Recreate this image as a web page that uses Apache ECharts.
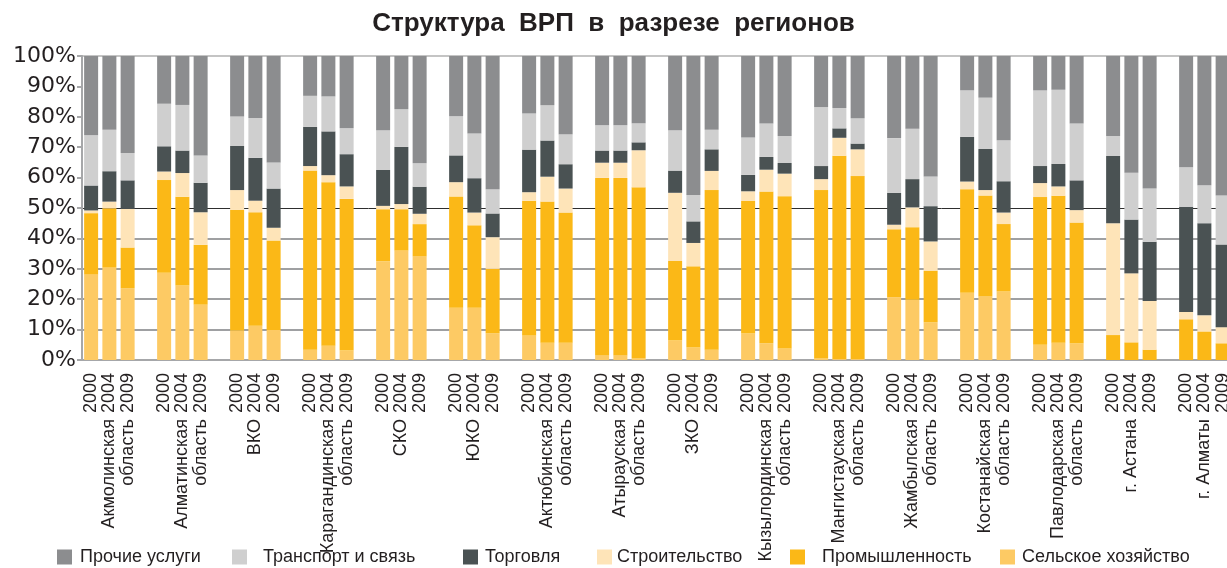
<!DOCTYPE html>
<html>
<head>
<meta charset="utf-8">
<title>Структура ВРП в разрезе регионов</title>
<script src="https://cdn.jsdelivr.net/npm/echarts@6/dist/echarts.min.js"></script>
<style>
  html, body { margin: 0; padding: 0; background: #ffffff; }
  #chart { width: 1227px; height: 568px; }
</style>
</head>
<body>
<div id="chart"></div>
<script>
// Regions (line breaks split the two label lines) and the years shown per region
const regions = [
  'Акмолинская\nобласть', 'Алматинская\nобласть', 'ВКО', 'Карагандинская\nобласть',
  'СКО', 'ЮКО', 'Актюбинская\nобласть', 'Атырауская\nобласть', 'ЗКО',
  'Кызылординская\nобласть', 'Мангистауская\nобласть', 'Жамбылская\nобласть',
  'Костанайская\nобласть', 'Павлодарская\nобласть', 'г. Астана', 'г. Алматы'
];
const years = ['2000', '2004', '2009'];
const yTicks = ['0%', '10%', '20%', '30%', '40%', '50%', '60%', '70%', '80%', '90%', '100%'];

// Shares of GRP, % — three values (2000, 2004, 2009) per region
const agriculture = [
  28.1, 30.4, 23.6,  28.7, 24.5, 18.2,  9.7, 11.3, 9.9,  3.4, 4.7, 3.1,
  32.5, 36.0, 34.1,  17.2, 17.2, 8.8,  8.1, 5.7, 5.7,  1.6, 1.6, 0.5,
  6.4, 4.1, 3.4,  8.7, 5.5, 3.8,  0.5, 0.3, 0.3,  20.7, 19.8, 12.4,
  22.1, 21.0, 22.5,  5.0, 5.7, 5.4,  0, 0, 0,  0, 0, 0
];
const industry = [
  20.2, 19.5, 13.4,  30.5, 29.2, 19.7,  39.7, 37.3, 29.4,  58.9, 53.8, 49.9,
  17.1, 13.6, 10.6,  36.6, 27.1, 21.2,  44.3, 46.4, 42.8,  58.3, 58.3, 56.3,
  26.2, 26.7, 52.5,  43.6, 49.9, 50.1,  55.4, 66.9, 60.2,  22.3, 23.9, 17.0,
  34.1, 33.1, 22.2,  48.6, 48.3, 39.8,  8.2, 5.8, 3.4,  13.4, 9.4, 5.5
];
const construction = [
  0.9, 2.2, 12.7,  2.8, 7.8, 10.7,  6.5, 3.8, 4.2,  1.5, 2.3, 4.1,
  1.1, 1.7, 3.4,  4.7, 4.2, 10.4,  2.8, 8.2, 7.9,  5.0, 5.0, 12.2,
  22.4, 7.7, 6.3,  3.2, 7.2, 7.4,  3.6, 5.9, 8.8,  1.5, 6.5, 9.6,
  2.5, 1.8, 3.8,  4.6, 3.1, 4.1,  36.8, 22.7, 16.0,  2.4, 5.3, 5.3
];
const trade = [
  8.2, 10.0, 9.4,  8.3, 7.4, 9.7,  14.5, 14.1, 12.9,  12.9, 14.4, 10.6,
  11.8, 18.8, 8.9,  8.8, 11.3, 7.8,  14.0, 11.9, 8.0,  4.0, 4.0, 2.6,
  7.3, 7.1, 7.1,  5.4, 4.2, 3.5,  4.3, 3.1, 1.9,  10.5, 9.3, 11.6,
  14.7, 13.5, 10.3,  5.6, 7.4, 9.8,  22.1, 17.7, 19.5,  34.6, 30.3, 27.2
];
const transport = [
  16.5, 13.6, 9.0,  14.0, 15.0, 9.0,  9.7, 13.1, 8.6,  10.2, 11.5, 8.5,
  13.1, 12.4, 7.7,  12.9, 14.7, 8.0,  11.9, 11.6, 9.9,  8.3, 8.3, 6.3,
  13.3, 8.7, 6.4,  12.3, 11.0, 8.9,  19.4, 6.7, 8.3,  18.0, 16.6, 9.8,
  15.3, 16.9, 13.5,  24.9, 24.4, 18.7,  6.6, 15.4, 17.5,  13.0, 12.5, 16.1
];
const otherServices = [
  26.1, 24.3, 31.9,  15.7, 16.1, 32.7,  19.9, 20.4, 35.0,  13.1, 13.3, 23.8,
  24.4, 17.5, 35.3,  19.8, 25.5, 43.8,  18.9, 16.2, 25.7,  22.8, 22.8, 22.1,
  24.4, 45.7, 24.3,  26.8, 22.2, 26.3,  16.8, 17.1, 20.5,  27.0, 23.9, 39.6,
  11.3, 13.7, 27.7,  11.3, 11.1, 22.2,  26.3, 38.4, 43.6,  36.6, 42.5, 45.9
];

// Stack order, bottom to top
const seriesDefs = [
  { name: 'Сельское хозяйство', values: agriculture,   color: '#fdca64' },
  { name: 'Промышленность',     values: industry,      color: '#fbb817' },
  { name: 'Строительство',      values: construction,  color: '#fee4b8' },
  { name: 'Торговля',           values: trade,         color: '#4a5253' },
  { name: 'Транспорт и связь',  values: transport,     color: '#cfcfcf' },
  { name: 'Прочие услуги',      values: otherServices, color: '#8c8d8f' }
];

// Each region takes four slots on the category axis: three years and an empty spacer
const slotsPerRegion = years.length + 1;
const slots = [];
const yearLabels = [];
const regionLabels = [];
regions.forEach(function (region, r) {
  const lines = region.split('\n');
  for (let k = 0; k < slotsPerRegion; k++) {
    slots.push(r + '_' + k);
    yearLabels.push(k < years.length ? years[k] : '');
    // first line of the name sits under the middle year, second under the last
    regionLabels.push(k === 1 ? lines[0] : (k === 2 && lines[1] ? lines[1] : ''));
  }
});

function slotData(values) {
  const out = [];
  for (let r = 0; r < regions.length; r++) {
    for (let k = 0; k < slotsPerRegion; k++) {
      out.push(k < years.length ? values[r * years.length + k] : '-');
    }
  }
  return out;
}

const textColor = '#231f20';
const gridGray = '#9fa0a2';
const T = 'rgba(0,0,0,0)';

// Legend items placed individually along the bottom row
const legendItems = [
  { name: 'Прочие услуги',      left: 57,   pad: 3 },
  { name: 'Транспорт и связь',  left: 232,  pad: 11 },
  { name: 'Торговля',           left: 463,  pad: 2 },
  { name: 'Строительство',      left: 597,  pad: 0 },
  { name: 'Промышленность',     left: 790,  pad: 12 },
  { name: 'Сельское хозяйство', left: 1000, pad: 2 }
];

const chart = echarts.init(document.getElementById('chart'), null, { renderer: 'canvas' });

chart.setOption({
  animation: false,
  backgroundColor: '#ffffff',
  title: {
    text: 'Структура  ВРП  в  разрезе  регионов',
    left: 'center',
    top: 6,
    textStyle: {
      fontFamily: 'Liberation Sans, Arial, sans-serif',
      fontSize: 26,
      fontWeight: 'bold',
      color: textColor
    }
  },
  legend: legendItems.map(function (it) {
    return {
      data: [it.name],
      left: it.left,
      top: 548,
      icon: 'rect',
      itemWidth: 15,
      itemHeight: 15,
      itemGap: 0,
      padding: 0,
      selectedMode: false,
      textStyle: {
        fontFamily: 'Liberation Sans, Arial, sans-serif',
        fontSize: 18,
        color: textColor,
        padding: [0, 0, 0, it.pad]
      }
    };
  }),
  grid: {
    left: 82,
    right: -23,
    top: 56,
    bottom: 208,
    containLabel: false,
    outerBoundsMode: 'none'
  },
  xAxis: [
    {
      type: 'category',
      data: slots,
      position: 'bottom',
      axisLine: { show: true, lineStyle: { color: '#a6a7a9', width: 2 } },
      axisTick: { show: false },
      splitLine: { show: false },
      axisLabel: {
        interval: 0,
        rotate: 90,
        margin: 13,
        fontFamily: 'Liberation Sans, Arial, sans-serif',
        fontSize: 18,
        color: textColor,
        formatter: function (v, i) { return yearLabels[i]; }
      }
    },
    {
      type: 'category',
      data: slots,
      position: 'bottom',
      axisLine: { show: false },
      axisTick: { show: false },
      splitLine: { show: false },
      axisLabel: {
        interval: 0,
        rotate: 90,
        margin: 59,
        fontFamily: 'Liberation Sans, Arial, sans-serif',
        fontSize: 18,
        color: textColor,
        formatter: function (v, i) { return regionLabels[i]; }
      }
    }
  ],
  yAxis: [
    {
      type: 'value',
      min: 0,
      max: 100,
      interval: 10,
      axisLine: { show: true, lineStyle: { color: '#a6a7a9', width: 2 } },
      axisTick: { show: true, length: 5, lineStyle: { color: '#a6a7a9', width: 2 } },
      axisLabel: {
        margin: 6,
        fontFamily: 'DejaVu Sans, Verdana, sans-serif',
        fontSize: 22,
        color: textColor,
        formatter: function (v) { return yTicks[Math.round(v / 10)]; }
      },
      // light gridlines in the lower half, a light rule along the top
      splitLine: {
        show: true,
        lineStyle: {
          width: 2,
          color: [T, gridGray, gridGray, gridGray, gridGray, T, T, T, T, T, '#c4c4c4']
        }
      }
    },
    {
      type: 'value',
      min: 0,
      max: 100,
      interval: 10,
      position: 'left',
      axisLine: { show: false },
      axisTick: { show: false },
      axisLabel: { show: false },
      // dark rule at the 50% level
      splitLine: {
        show: true,
        lineStyle: {
          width: 1,
          color: [T, T, T, T, T, '#2e2e2e', T, T, T, T, T]
        }
      }
    }
  ],
  series: seriesDefs.map(function (s) {
    return {
      name: s.name,
      type: 'bar',
      stack: 'share',
      xAxisIndex: 0,
      yAxisIndex: 0,
      barWidth: 14,
      itemStyle: { color: s.color },
      data: slotData(s.values)
    };
  })
});
</script>
</body>
</html>
